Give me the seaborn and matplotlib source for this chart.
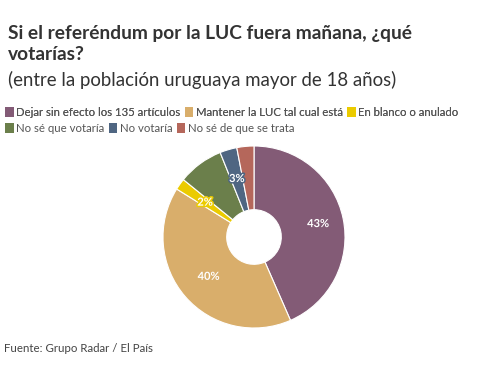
import matplotlib
matplotlib.use("Agg")
import matplotlib.pyplot as plt
import matplotlib.patheffects as pe
from matplotlib.patches import Patch
import numpy as np
import seaborn as sns

categories = ["Dejar sin efecto los 135 artículos", "Mantener la LUC tal cual está",
              "En blanco o anulado", "No sé que votaría", "No votaría", "No sé de que se trata"]
values = [43, 40, 2, 8, 3, 3]
labels = ["43%", "40%", "2%", "", "3%", ""]
colors = ["#835B76", "#D9AE6B", "#EBCB00", "#6B7F4B", "#4F6682", "#B5675B"]

sns.set_theme(style="white")
plt.rcParams['font.family'] = ['Lato', 'DejaVu Sans']

W, H = 500, 365
fig = plt.figure(figsize=(W/100, H/100), dpi=100)
pal = sns.color_palette(colors)

R = 91
cx, cy = 254, 237
ax = fig.add_axes([(cx - R)/W, (H - cy - R)/H, 2*R/W, 2*R/H])
wedges, _ = ax.pie(values, colors=pal, startangle=90, counterclock=False,
                   radius=1.0, wedgeprops=dict(width=0.7, edgecolor="white", linewidth=0.8))
ax.set_xlim(-1, 1); ax.set_ylim(-1, 1)
ax.set_aspect("equal")
ax.axis("off")

total = sum(values)
cum = 0
rpos = {0: 0.72, 1: 0.66, 2: 0.66, 4: 0.67}
for i, (v, lab) in enumerate(zip(values, labels)):
    mid = cum + v/2
    cum += v
    if not lab:
        continue
    ang = np.deg2rad(90 - 360*mid/total)
    r = rpos.get(i, 0.68)
    ax.text(r*np.cos(ang), r*np.sin(ang), lab, ha="center", va="center",
            color="white", fontsize=8, fontweight="bold",
            path_effects=[pe.withStroke(linewidth=2.2, foreground=colors[i])])

fig.text(8/W, 1 - 33/H, "Si el referéndum por la LUC fuera mañana, ¿qué",
         fontsize=13.8, fontweight="bold", color="#333333", ha="left", va="center")
fig.text(8/W, 1 - 55/H, "votarías?",
         fontsize=13.8, fontweight="bold", color="#333333", ha="left", va="center")
fig.text(8/W, 1 - 80/H, "(entre la población uruguaya mayor de 18 años)",
         fontsize=13.4, color="#333333", ha="left", va="center")

def row(idx, y):
    handles = [Patch(facecolor=colors[i], edgecolor="none") for i in idx]
    leg = fig.legend(handles, [categories[i] for i in idx], loc="center left",
                     bbox_to_anchor=(5/W, 1 - y/H), ncol=len(idx), frameon=False,
                     fontsize=8.2, handlelength=0.75, handleheight=1.0, handletextpad=0.25,
                     columnspacing=0.35, borderpad=0, borderaxespad=0)
    for t in leg.get_texts():
        t.set_color("#555555")
    return leg

l1 = row([0, 1, 2], 112)
fig.add_artist(l1)
row([3, 4, 5], 128)

fig.text(4/W, 1 - 349/H, "Fuente: Grupo Radar / El País", fontsize=8.3, color="#444444",
         ha="left", va="center")

fig.savefig("out.png", dpi=100, facecolor="white")
